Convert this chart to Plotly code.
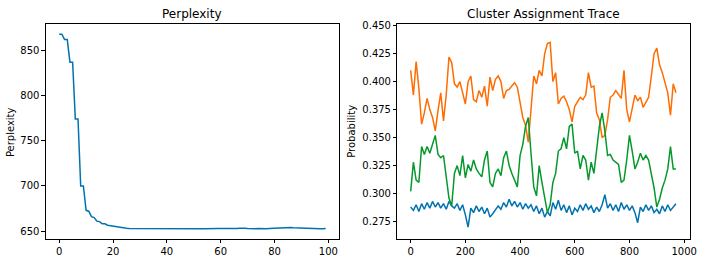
import plotly.graph_objects as go

# ---------------- data ----------------
perp_iter = list(range(100))
perplexity = [868, 868, 862, 862, 837, 837, 774, 774, 700, 700,
              673, 672, 666, 665, 661, 660.5, 658, 658, 656.5, 656,
              655, 654.5, 654, 653.8, 653.5, 653.2, 653, 653, 652.9, 653,
              653, 652.9, 653, 653.1, 653, 653.2, 653.5, 653.3, 653, 652.9,
              652.8, 652.9, 653, 653, 652.9, 653, 653.1, 653.3, 653.5, 653.3,
              653.1, 653, 652.8, 652.7, 652.6, 652.8, 653, 653, 652.9, 652.8,
              652.8, 652.7, 652.6, 652.5, 652.4, 652.6, 652.9, 653.2, 653.5, 653.2,
              652.9, 652.6, 652.4, 652.6, 652.9, 652.6, 652.4, 652.6, 652.9, 653.1,
              653.2, 653.1, 653.2, 653.6, 654.4, 654.3, 654, 653.8, 653.6, 653.4,
              653.2, 653, 652.8, 652.9, 653.1, 652.9, 652.6, 652.5, 652.7, 653]

trace_iter = list(range(0, 980, 10))
cluster_a = [0.288, 0.285, 0.290, 0.284, 0.291, 0.286, 0.292, 0.287, 0.293, 0.288,
             0.292, 0.287, 0.291, 0.286, 0.293, 0.289, 0.287, 0.291, 0.285, 0.290,
             0.281, 0.270, 0.287, 0.283, 0.289, 0.284, 0.288, 0.282, 0.287, 0.279,
             0.282, 0.285, 0.289, 0.286, 0.292, 0.288, 0.295, 0.289, 0.293, 0.288,
             0.292, 0.286, 0.291, 0.287, 0.290, 0.284, 0.289, 0.282, 0.287, 0.279,
             0.284, 0.280, 0.292, 0.286, 0.294, 0.285, 0.290, 0.283, 0.289, 0.281,
             0.287, 0.284, 0.290, 0.285, 0.291, 0.286, 0.289, 0.283, 0.288, 0.284,
             0.290, 0.299, 0.287, 0.291, 0.285, 0.290, 0.284, 0.292, 0.286, 0.290,
             0.285, 0.289, 0.283, 0.274, 0.288, 0.284, 0.290, 0.285, 0.289, 0.283,
             0.286, 0.282, 0.289, 0.284, 0.290, 0.285, 0.288, 0.291]
cluster_b = [0.410, 0.388, 0.418, 0.394, 0.362, 0.372, 0.385, 0.375, 0.368, 0.356,
             0.374, 0.390, 0.365, 0.388, 0.422, 0.417, 0.398, 0.395, 0.400, 0.390,
             0.380, 0.400, 0.405, 0.384, 0.382, 0.392, 0.386, 0.396, 0.378, 0.404,
             0.392, 0.402, 0.405, 0.400, 0.385, 0.392, 0.393, 0.396, 0.399, 0.395,
             0.380, 0.368, 0.361, 0.346, 0.375, 0.405, 0.398, 0.410, 0.405, 0.425,
             0.434, 0.435, 0.400, 0.408, 0.380, 0.385, 0.387, 0.382, 0.375, 0.364,
             0.378, 0.382, 0.386, 0.384, 0.388, 0.408, 0.395, 0.396, 0.372, 0.366,
             0.350, 0.352, 0.366, 0.386, 0.388, 0.392, 0.388, 0.385, 0.410, 0.375,
             0.364, 0.375, 0.388, 0.383, 0.386, 0.377, 0.382, 0.386, 0.405, 0.425,
             0.430, 0.415, 0.408, 0.400, 0.390, 0.370, 0.398, 0.390]
cluster_c = [0.302, 0.328, 0.312, 0.310, 0.342, 0.335, 0.342, 0.336, 0.344, 0.352,
             0.335, 0.332, 0.334, 0.312, 0.296, 0.289, 0.318, 0.325, 0.316, 0.334,
             0.314, 0.326, 0.320, 0.330, 0.322, 0.318, 0.315, 0.330, 0.338, 0.310,
             0.306, 0.318, 0.322, 0.316, 0.332, 0.338, 0.325, 0.318, 0.312, 0.306,
             0.334, 0.344, 0.360, 0.368, 0.336, 0.306, 0.298, 0.325, 0.310, 0.295,
             0.283, 0.290, 0.310, 0.318, 0.338, 0.340, 0.350, 0.340, 0.360, 0.362,
             0.336, 0.338, 0.322, 0.334, 0.330, 0.312, 0.328, 0.318, 0.342, 0.360,
             0.372, 0.356, 0.334, 0.335, 0.330, 0.328, 0.326, 0.310, 0.312, 0.330,
             0.352, 0.338, 0.322, 0.328, 0.336, 0.330, 0.334, 0.330, 0.318, 0.305,
             0.288, 0.295, 0.305, 0.312, 0.322, 0.342, 0.322, 0.322]

left_xticks = [0, 20, 40, 60, 80, 100]
left_yticks = [650, 700, 750, 800, 850]
right_xticks = [0, 200, 400, 600, 800, 1000]
right_yticks = [0.275, 0.300, 0.325, 0.350, 0.375, 0.400, 0.425, 0.450]

BLUE = "#0072B2"
ORANGE = "#FF6C00"
GREEN = "#05992C"

W, H = 718, 262
FONT = "DejaVu Sans"

def px_x(p):
    return p / W

def px_y(p):
    return 1 - p / H

fig = go.Figure()
fig.add_trace(go.Scatter(x=perp_iter, y=perplexity, mode="lines",
                         line=dict(color=BLUE, width=1.5), xaxis="x", yaxis="y"))
fig.add_trace(go.Scatter(x=trace_iter, y=cluster_a, mode="lines",
                         line=dict(color=BLUE, width=1.5), xaxis="x2", yaxis="y2"))
fig.add_trace(go.Scatter(x=trace_iter, y=cluster_b, mode="lines",
                         line=dict(color=ORANGE, width=1.5), xaxis="x2", yaxis="y2"))
fig.add_trace(go.Scatter(x=trace_iter, y=cluster_c, mode="lines",
                         line=dict(color=GREEN, width=1.5), xaxis="x2", yaxis="y2"))

axis_common = dict(showgrid=False, zeroline=False, showline=True, mirror=True,
                   linecolor="black", linewidth=0.8, ticks="outside", ticklen=3.5,
                   tickwidth=0.8, tickcolor="black",
                   tickfont=dict(family=FONT, size=10, color="black"))

ydom = [px_y(238.7), px_y(20.7)]
fig.update_layout(
    width=W, height=H, margin=dict(l=0, r=0, t=0, b=0),
    paper_bgcolor="white", plot_bgcolor="white", showlegend=False,
    hovermode=False,
    xaxis=dict(domain=[px_x(46.3), px_x(342.3)], range=[-4.95, 103.95],
               tickvals=left_xticks, anchor="y", **axis_common),
    yaxis=dict(domain=ydom, range=[641.2, 878.8], tickvals=left_yticks,
               anchor="x", **axis_common),
    xaxis2=dict(domain=[px_x(401.3), px_x(696.3)], range=[-48.55, 1019.55],
                tickvals=right_xticks, anchor="y2", **axis_common),
    yaxis2=dict(domain=ydom, range=[0.2594, 0.4511], tickvals=right_yticks,
                tickformat=".3f", anchor="x2", **axis_common),
)

ann_font = dict(family=FONT, size=10, color="black")
title_font = dict(family=FONT, size=12, color="black")
fig.add_annotation(text="Perplexity", x=px_x(194.3), y=px_y(10.5), xref="paper", yref="paper",
                   showarrow=False, font=title_font, xanchor="center", yanchor="middle")
fig.add_annotation(text="Cluster Assignment Trace", x=px_x(548.8), y=px_y(10.5), xref="paper",
                   yref="paper", showarrow=False, font=title_font, xanchor="center", yanchor="middle")
fig.add_annotation(text="Perplexity", x=px_x(10.5), y=px_y(129.7), xref="paper", yref="paper",
                   showarrow=False, font=ann_font, textangle=-90, xanchor="center", yanchor="middle")
fig.add_annotation(text="Probability", x=px_x(355.5), y=px_y(129.7), xref="paper", yref="paper",
                   showarrow=False, font=ann_font, textangle=-90, xanchor="center", yanchor="middle")

# remove the browser's default page margin so the figure fills the window
fig.write_html("out.html", config={"displayModeBar": False},
               post_script="document.body.style.margin='0';")
